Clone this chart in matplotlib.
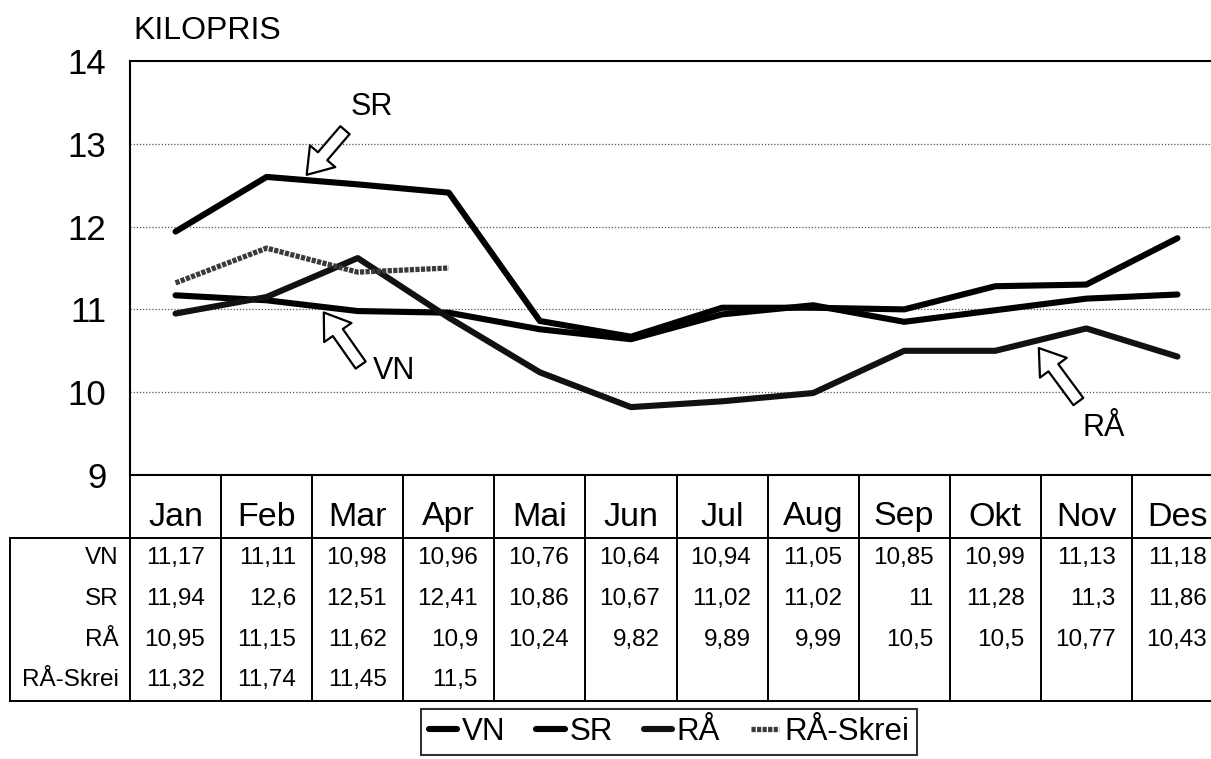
"""Kilopris per maaned (VN, SR, RÅ, RÅ-Skrei) med datatabell under diagrammet."""

import numpy as np
import matplotlib
matplotlib.use("Agg")
import matplotlib.pyplot as plt
from matplotlib.transforms import blended_transform_factory

plt.rcParams["font.family"] = ["Liberation Sans", "DejaVu Sans"]

# Data lest av tabellen
MONTHS = ["Jan", "Feb", "Mar", "Apr", "Mai", "Jun", "Jul", "Aug", "Sep", "Okt", "Nov", "Des"]
VN = [11.17, 11.11, 10.98, 10.96, 10.76, 10.64, 10.94, 11.05, 10.85, 10.99, 11.13, 11.18]
SR = [11.94, 12.6, 12.51, 12.41, 10.86, 10.67, 11.02, 11.02, 11.0, 11.28, 11.3, 11.86]
RAA = [10.95, 11.15, 11.62, 10.9, 10.24, 9.82, 9.89, 9.99, 10.5, 10.5, 10.77, 10.43]
RAA_SKREI = [11.32, 11.74, 11.45, 11.5, None, None, None, None, None, None, None, None]
SERIES = ["VN", "SR", "RÅ", "RÅ-Skrei"]
Y_TICKS = [9, 10, 11, 12, 13, 14]

W, H = 1211, 759
fig = plt.figure(figsize=(W / 100, H / 100), dpi=100)
fig.patch.set_facecolor("white")

# Overlegg i pikselkoordinater for tabellen
ov = fig.add_axes([0, 0, 1, 1])
ov.set_xlim(0, W)
ov.set_ylim(H, 0)
ov.axis("off")

# Diagramflate (rett kant til hoyre er klippet i originalen)
left, right, top, bottom = 130, 1223, 61, 475
ax = fig.add_axes([left / W, 1 - bottom / H, (right - left) / W, (bottom - top) / H])
ax.set_facecolor("none")
x = np.arange(len(MONTHS))
ax.set_xlim(-0.5, len(MONTHS) - 0.5)
ax.set_ylim(9, 14)

lw = 4.4
l_vn, = ax.plot(x, VN, color="black", lw=lw, solid_capstyle="round", solid_joinstyle="round", label="VN")
l_sr, = ax.plot(x, SR, color="black", lw=lw, solid_capstyle="round", solid_joinstyle="round", label="SR")
l_ra, = ax.plot(x, RAA, color="#111111", lw=lw, solid_capstyle="round", solid_joinstyle="round", label="RÅ")
skrei = np.array([np.nan if v is None else v for v in RAA_SKREI])
l_sk, = ax.plot(x, skrei, color="#3a3a3a", lw=lw - 0.6, linestyle=(0, (0.8, 0.25)),
                dash_capstyle="butt", label="RÅ-Skrei")

ax.set_yticks(Y_TICKS)
ax.set_yticklabels([str(t) for t in Y_TICKS], fontsize=25)
ax.tick_params(axis="y", length=0, pad=17)
ax.set_xticks([])
for yv in Y_TICKS[1:-1]:
    ax.axhline(yv, color="#555555", lw=0.9, linestyle=(0, (1, 1.5)), zorder=0)
for side in ["left", "top", "bottom", "right"]:
    ax.spines[side].set_linewidth(1.5)
    ax.spines[side].set_color("black")

# Tittel
ov.text(133, 31, "KILOPRIS", fontsize=23, ha="left", va="center")

# Piler med etiketter (hule piler)
arrow_kw = dict(arrowstyle="simple,head_length=1.1,head_width=1.5,tail_width=0.55",
                fc="white", ec="black", lw=1.6, mutation_scale=16)
ax.annotate("", xy=(1.42, 12.60), xytext=(1.88, 13.19), arrowprops=arrow_kw)
ax.text(2.16, 13.44, "SR", fontsize=22, ha="center", va="center")
ax.annotate("", xy=(1.61, 10.99), xytext=(2.05, 10.30), arrowprops=arrow_kw)
ax.text(2.17, 10.26, "VN", fontsize=22, ha="left", va="center")
ax.annotate("", xy=(9.46, 10.56), xytext=(9.93, 9.86), arrowprops=arrow_kw)
ax.text(10.19, 9.57, "RÅ", fontsize=22, ha="center", va="center")

# Datatabell: x i manedsindeks (samme skala som diagrammet), y i piksler
tr = blended_transform_factory(ax.transData, ov.transData)
hdr_top, hdr_bot, tbl_bot = bottom, 538, 701
row_y = [558, 599, 640, 680]
edges = np.arange(len(MONTHS) + 1) - 0.5
for e in edges:
    ov.plot([e, e], [hdr_top, tbl_bot], color="black", lw=1.4, transform=tr, clip_on=False)
ov.plot([10, W], [hdr_bot, hdr_bot], color="black", lw=1.4)
ov.plot([10, W], [tbl_bot, tbl_bot], color="black", lw=1.4)
ov.plot([10, 10], [hdr_bot, tbl_bot], color="black", lw=1.4)

for i, m in enumerate(MONTHS):
    ov.text(i, 517, m, fontsize=24.5, ha="center", va="center", transform=tr)

for name, vals, yy in zip(SERIES, [VN, SR, RAA, RAA_SKREI], row_y):
    ov.text(119, yy, name, fontsize=17.5, ha="right", va="center")
    for i, v in enumerate(vals):
        if v is None:
            continue
        ov.text(i + 0.32, yy, f"{v:g}".replace(".", ","), fontsize=17.5,
                ha="right", va="center", transform=tr)

# Forklaring
leg = fig.legend(handles=[l_vn, l_sr, l_ra, l_sk], labels=SERIES, loc="upper left",
                 bbox_to_anchor=(421 / W, 1 - 709 / H), ncol=4, fontsize=22.5,
                 handlelength=0.9, handletextpad=0.15, columnspacing=1.0,
                 borderpad=0.25, borderaxespad=0, fancybox=False, frameon=True)
leg.get_frame().set_edgecolor("black")
leg.get_frame().set_linewidth(1.5)

fig.savefig("out.png", dpi=100, facecolor="white")
